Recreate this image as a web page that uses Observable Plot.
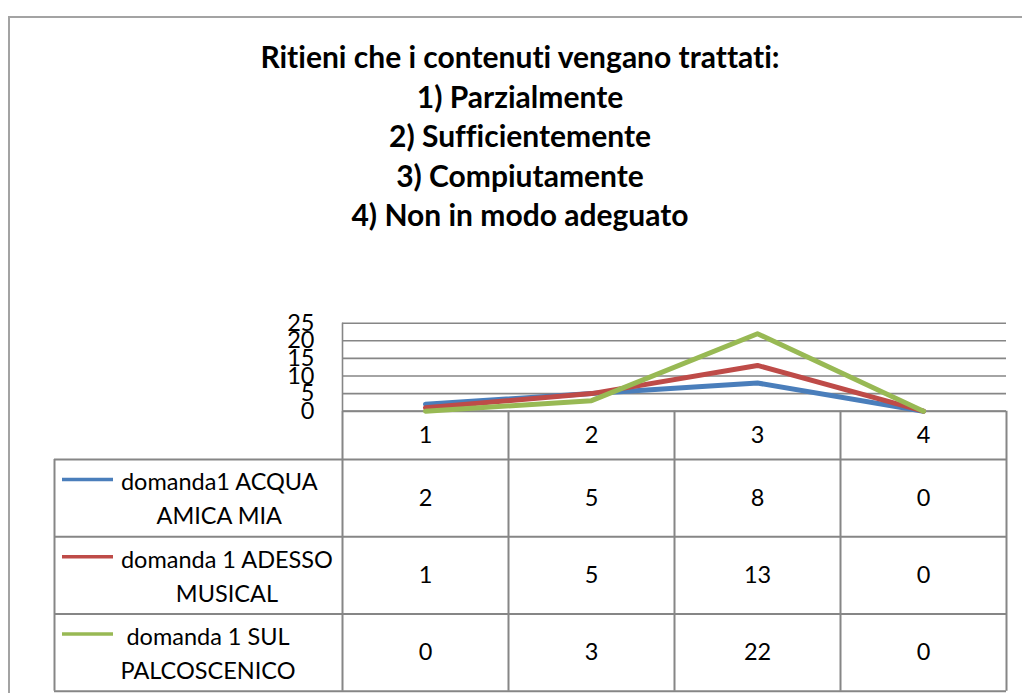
<!DOCTYPE html>
<html>
<head>
<meta charset="utf-8">
<script src="https://cdn.jsdelivr.net/npm/d3@7"></script>
<script src="https://cdn.jsdelivr.net/npm/@observablehq/plot@0.6"></script>
<style>
  html, body { margin: 0; padding: 0; background: #ffffff; }
  #wrap { position: relative; width: 1022px; height: 693px; overflow: hidden; font-family: Lato, "Open Sans", sans-serif;
          font-variant-ligatures: none; font-feature-settings: "liga" 0, "clig" 0; }
  #frame { position: absolute; left: 8px; top: 16px; width: 1100px; height: 800px;
           border-left: 2px solid #a3a3a3; border-top: 2px solid #a3a3a3; }
  #title { position: absolute; left: 0; top: 37px; width: 1040px; text-align: center;
           font-weight: bold; font-size: 30px; line-height: 39.5px; color: #000; }
  .layer { position: absolute; left: 0; top: 0; }
  svg text { font-variant-ligatures: none; }
</style>
</head>
<body>
<div id="wrap">
  <div id="frame"></div>
  <div id="title"></div>
  <div id="table" class="layer"></div>
  <div id="chart" class="layer"></div>
</div>
<script>
// ---------- data ----------
const titleLines = [
  "Ritieni che i contenuti vengano trattati:",
  "1) Parzialmente",
  "2) Sufficientemente",
  "3) Compiutamente",
  "4) Non in modo adeguato"
];
const categories = [1, 2, 3, 4];
const seriesNames = ["domanda1 ACQUA AMICA MIA", "domanda 1 ADESSO MUSICAL", "domanda 1 SUL PALCOSCENICO"];
const seriesLabelLines = [["domanda1 ACQUA", "AMICA MIA"], ["domanda 1 ADESSO", "MUSICAL"], ["domanda 1 SUL", "PALCOSCENICO"]];
const acquaAmicaMia = [2, 5, 8, 0];
const adessoMusical = [1, 5, 13, 0];
const sulPalcoscenico = [0, 3, 22, 0];
const yTicks = [0, 5, 10, 15, 20, 25];
const seriesColors = ["#4A7EBB", "#BE4B48", "#98B954"];

// ---------- layout ----------
const W = 1022, H = 693;
const plotLeft = 342, plotRight = 1006, plotTop = 322.7, plotBottom = 410.7;
const tableLeft = 54, tableTop = 410.7, tableBottom = 690.7, headerH = 48.3;
const gridColor = "#868686";
const fontFamily = "Lato, 'Open Sans', sans-serif";
const fontSize = 23.5;

document.getElementById("title").innerHTML = titleLines.map(t => `<div>${t}</div>`).join("");

const seriesValues = [acquaAmicaMia, adessoMusical, sulPalcoscenico];
const rows = [];
seriesNames.forEach((name, si) => {
  categories.forEach((c, ci) => rows.push({series: name, row: si, cat: c, value: seriesValues[si][ci]}));
});

// ---------- line chart ----------
const chart = Plot.plot({
  width: W, height: H,
  marginLeft: plotLeft, marginRight: W - plotRight, marginTop: plotTop, marginBottom: H - plotBottom,
  style: {background: "transparent", fontFamily, fontSize: fontSize + "px", color: "#000"},
  x: {domain: [0.5, 4.5], axis: null},
  y: {domain: [0, 25], ticks: yTicks, tickSize: 0, tickPadding: 28, label: null},
  color: {domain: seriesNames, range: seriesColors},
  marks: [
    Plot.ruleY(yTicks, {stroke: gridColor, strokeWidth: 1.6, strokeOpacity: 1}),
    Plot.ruleX([0.5], {y1: 0, y2: 25, stroke: gridColor, strokeWidth: 1.6, strokeOpacity: 1}),
    Plot.line(rows, {x: "cat", y: "value", z: "series", stroke: "series", strokeWidth: 5,
                     strokeLinejoin: "round", strokeLinecap: "round"})
  ]
});
document.getElementById("chart").appendChild(chart);

// ---------- data table ----------
const colW = (plotRight - plotLeft) / categories.length;
const x0 = 0.5 - (plotLeft - tableLeft) / colW;
const rowH = (tableBottom - tableTop - headerH) / seriesNames.length;
const hf = headerH / rowH;
const total = hf + seriesNames.length;
const px2x = px => x0 + (px - tableLeft) / colW;

const ctx = document.createElement("canvas").getContext("2d");
ctx.font = `${fontSize}px ${fontFamily}`;
const labelBlockLeft = tableLeft + 66;
const labelData = seriesLabelLines.map((lines, i) => {
  const w = Math.max(...lines.map(l => ctx.measureText(l).width));
  return {row: i, text: lines.join("\n"), cx: px2x(labelBlockLeft + w / 2)};
});

const table = Plot.plot({
  width: W, height: H,
  style: {background: "transparent", fontFamily, fontSize: fontSize + "px", color: "#000"},
  x: {type: "linear", domain: [x0, 4.5], range: [tableLeft, plotRight], axis: null},
  y: {type: "linear", domain: [0, total], range: [tableTop, tableBottom], axis: null},
  color: {domain: seriesNames, range: seriesColors},
  marks: [
    Plot.ruleY([0], {x1: 0.5, x2: 4.5, stroke: gridColor, strokeWidth: 2, strokeOpacity: 1}),
    Plot.ruleY(d3.range(seriesNames.length + 1).map(i => hf + i), {x1: x0, x2: 4.5, stroke: gridColor, strokeWidth: 2, strokeOpacity: 1}),
    Plot.ruleX(categories.map(c => c - 0.5).concat([4.5]), {y1: 0, y2: total, stroke: gridColor, strokeWidth: 2, strokeOpacity: 1}),
    Plot.ruleX([x0], {y1: hf, y2: total, stroke: gridColor, strokeWidth: 2, strokeOpacity: 1}),
    Plot.text(categories, {x: d => d, y: hf / 2, text: d => String(d), fill: "#000"}),
    Plot.text(rows, {x: "cat", y: d => hf + d.row + 0.5, text: d => String(d.value), fill: "#000"}),
    Plot.ruleY(seriesNames, {y: (d, i) => hf + i + 20 / rowH, x1: px2x(tableLeft + 8), x2: px2x(tableLeft + 59),
                             stroke: d => d, strokeWidth: 3.5, strokeOpacity: 1}),
    Plot.text(labelData, {x: "cx", y: d => hf + d.row + 37 / rowH, text: "text", textAnchor: "middle",
                          lineAnchor: "middle", lineHeight: 34 / fontSize, fill: "#000"})
  ]
});
document.getElementById("table").appendChild(table);
</script>
</body>
</html>
